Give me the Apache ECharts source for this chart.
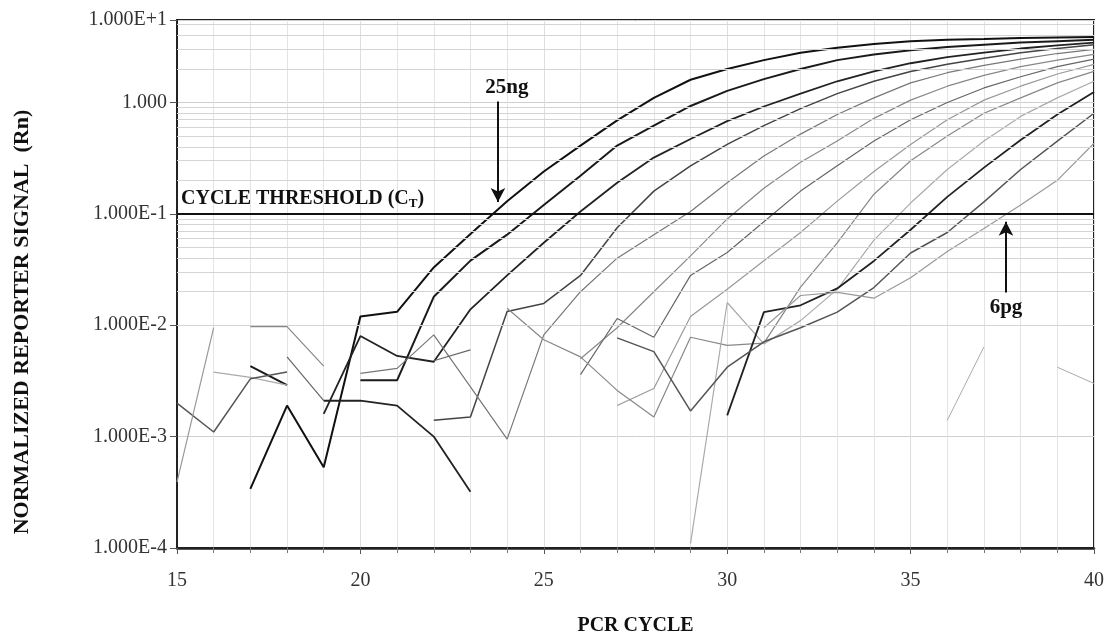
<!DOCTYPE html>
<html>
<head>
<meta charset="utf-8">
<title>PCR amplification plot</title>
<script src="https://cdn.jsdelivr.net/npm/echarts@6/dist/echarts.min.js"></script>
<style>
  html, body { margin: 0; padding: 0; background: #fff; }
  #chart { width: 1107px; height: 641px; }
</style>
</head>
<body>
<div id="chart"></div>
<script>
// PCR cycle numbers (x axis)
const cycles = [15, 16, 17, 18, 19, 20, 21, 22, 23, 24, 25, 26, 27, 28, 29, 30, 31, 32, 33, 34, 35, 36, 37, 38, 39, 40];

// normalized reporter signal (Rn) per dilution, null = no point drawn (value <= 0)
const curve25ng = [null, null, 0.00034, 0.0019, 0.00053, 0.012, 0.0132, 0.033, 0.066, 0.13, 0.24, 0.41, 0.69, 1.1, 1.6, 2.0, 2.4, 2.8, 3.1, 3.35, 3.55, 3.65, 3.72, 3.8, 3.84, 3.88];
const curve2 = [null, null, 0.0043, 0.0029, null, 0.0032, 0.0032, 0.018, 0.038, 0.065, 0.12, 0.22, 0.41, 0.62, 0.93, 1.27, 1.62, 2.0, 2.4, 2.7, 2.95, 3.15, 3.3, 3.45, 3.55, 3.65];
const curve3 = [null, null, null, null, 0.0016, 0.008, 0.0053, 0.0047, 0.0139, 0.028, 0.055, 0.105, 0.19, 0.32, 0.47, 0.68, 0.92, 1.2, 1.55, 1.9, 2.25, 2.55, 2.8, 3.05, 3.25, 3.45];
const curve4 = [null, null, null, null, null, null, null, 0.0014, 0.0015, 0.0133, 0.0157, 0.028, 0.075, 0.16, 0.27, 0.42, 0.62, 0.88, 1.2, 1.55, 1.9, 2.2, 2.5, 2.8, 3.05, 3.3];
const curve5 = [null, null, null, null, null, 0.0037, 0.0041, 0.0082, 0.0028, 0.00095, 0.0082, 0.02, 0.04, 0.065, 0.105, 0.19, 0.33, 0.52, 0.78, 1.1, 1.5, 1.85, 2.15, 2.45, 2.75, 3.0];
const curve6 = [null, null, 0.0097, 0.0097, 0.0043, null, null, null, null, null, null, 0.005, 0.0095, 0.02, 0.042, 0.09, 0.17, 0.29, 0.45, 0.72, 1.05, 1.4, 1.75, 2.1, 2.4, 2.7];
const curve7 = [null, null, null, 0.0052, 0.0021, null, null, 0.0048, 0.006, null, null, 0.0036, 0.0115, 0.0078, 0.028, 0.045, 0.085, 0.16, 0.27, 0.45, 0.7, 1.0, 1.35, 1.7, 2.1, 2.45];
const curve8 = [null, null, null, null, null, null, null, null, null, null, null, null, 0.0019, 0.0027, 0.012, 0.021, 0.038, 0.068, 0.13, 0.24, 0.42, 0.7, 1.05, 1.4, 1.8, 2.2];
const curve9 = [null, null, null, null, null, null, null, null, null, 0.0142, 0.0074, 0.0052, 0.0026, 0.0015, 0.0078, 0.0066, 0.0069, 0.022, 0.055, 0.15, 0.3, 0.5, 0.8, 1.1, 1.5, 1.9];
const curve10 = [null, 0.0038, 0.0034, 0.0029, null, null, null, null, null, null, null, null, null, null, 0.00011, 0.016, 0.0068, 0.011, 0.021, 0.058, 0.125, 0.25, 0.45, 0.75, 1.1, 1.55];
const curve11 = [null, null, null, null, 0.0021, 0.0021, 0.0019, 0.001, 0.00032, null, null, null, null, null, null, 0.00155, 0.0131, 0.0151, 0.0214, 0.0378, 0.072, 0.142, 0.26, 0.46, 0.78, 1.24];
const curve12 = [0.002, 0.0011, 0.0033, 0.0038, null, null, null, null, null, null, null, null, 0.0077, 0.0058, 0.0017, 0.0042, 0.0071, 0.0095, 0.0131, 0.0218, 0.0445, 0.068, 0.128, 0.25, 0.45, 0.8];
const curve6pg = [0.00039, 0.0095, null, null, null, null, null, null, null, null, null, null, null, null, null, null, 0.0095, 0.0185, 0.0197, 0.0175, 0.0267, 0.046, 0.074, 0.12, 0.2, 0.43];
const noTemplate = [null, null, null, null, null, null, null, null, null, null, null, null, null, null, null, null, null, null, null, null, null, 0.0014, 0.0064, null, 0.0042, 0.003];

const threshold = 0.1;

let myChart = echarts.init(document.getElementById("chart"));

const serif = "Liberation Serif";

// line colour / width for each trace, dark ones are the high-copy samples
let traces = [
  { data: curve25ng, color: "#111", width: 2 },
  { data: curve2, color: "#1a1a1a", width: 2 },
  { data: curve3, color: "#222", width: 1.8 },
  { data: curve4, color: "#444", width: 1.5 },
  { data: curve5, color: "#777", width: 1.2 },
  { data: curve6, color: "#888", width: 1.2 },
  { data: curve7, color: "#666", width: 1.2 },
  { data: curve8, color: "#999", width: 1.2 },
  { data: curve9, color: "#888", width: 1.2 },
  { data: curve10, color: "#aaa", width: 1.2 },
  { data: curve11, color: "#222", width: 1.8 },
  { data: curve12, color: "#555", width: 1.5 },
  { data: curve6pg, color: "#999", width: 1.2 },
  { data: noTemplate, color: "#aaa", width: 1 }
];

// light gridlines at 2..9 x 10^n (log minor lines)
let minorLines = [];
for (let e = -4; e <= 0; e++) {
  for (let j = 2; j <= 9; j++) {
    let v = j * Math.pow(10, e);
    if (v < 5.5) minorLines.push({ yAxis: v });
  }
}

let series = traces.map(function (t, i) {
  return {
    type: "line",
    name: "s" + i,
    data: cycles.map(function (c, k) { return [c, t.data[k]]; }),
    showSymbol: false,
    symbol: "none",
    connectNulls: false,
    z: 3,
    lineStyle: { color: t.color, width: t.width },
    silent: true
  };
});

series.push({
  type: "line",
  name: "grid",
  data: [],
  z: 1,
  silent: true,
  markLine: {
    silent: true,
    symbol: "none",
    animation: false,
    label: { show: false },
    lineStyle: { color: "#d4d4d4", width: 1, type: "solid" },
    data: minorLines
  }
});

// threshold line
series.push({
  type: "line",
  name: "threshold",
  data: [],
  z: 4,
  silent: true,
  markLine: {
    silent: true,
    animation: false,
    symbol: "none",
    lineStyle: { color: "#111", width: 2, type: "solid" },
    data: [
      {
        yAxis: threshold,
        label: {
          position: "insideStartTop",
          distance: 4,
          formatter: "{a|CYCLE THRESHOLD (C}{b|T}{a|)}",
          rich: {
            a: { fontFamily: serif, fontWeight: "bold", fontSize: 20, color: "#111" },
            b: { fontFamily: serif, fontWeight: "bold", fontSize: 13, color: "#111", padding: [10, 0, 0, 0] }
          }
        }
      }
    ]
  }
});

// arrows pointing at the first and the last dilution
series.push({
  type: "line",
  name: "arrows",
  data: [],
  z: 5,
  silent: true,
  markLine: {
    silent: true,
    animation: false,
    symbol: ["none", "arrow"],
    symbolSize: [11, 14],
    lineStyle: { color: "#111", width: 2, type: "solid" },
    label: {
      color: "#111",
      fontFamily: serif,
      fontWeight: "bold",
      fontSize: 21
    },
    data: [
      [
        { coord: [23.75, 1.02], label: { position: "start", formatter: "25ng", distance: 3, padding: [0, 0, 0, 18] } },
        { coord: [23.75, 0.128] }
      ],
      [
        { coord: [37.6, 0.0197], label: { position: "start", formatter: "6pg", distance: 5 } },
        { coord: [37.6, 0.085] }
      ]
    ]
  }
});

myChart.setOption({
  animation: false,
  backgroundColor: "#fff",
  grid: {
    left: 177,
    right: 11,
    top: 20,
    bottom: 84,
    show: true,
    borderColor: "#222",
    borderWidth: 2
  },
  graphic: [
    {
      type: "text",
      x: 22,
      y: 322,
      rotation: Math.PI / 2,
      style: {
        text: "NORMALIZED REPORTER SIGNAL  (Rn)",
        fontFamily: serif,
        fontWeight: "bold",
        fontSize: 22,
        fill: "#111",
        align: "center",
        verticalAlign: "middle"
      }
    }
  ],
  xAxis: {
    type: "value",
    min: 15,
    max: 40,
    interval: 5,
    name: "PCR CYCLE",
    nameLocation: "middle",
    nameGap: 68,
    nameTextStyle: { fontFamily: serif, fontWeight: "bold", fontSize: 20, color: "#111" },
    axisLine: { lineStyle: { color: "#222", width: 2.5 } },
    axisTick: { show: true, length: 6, lineStyle: { color: "#555" } },
    minorTick: { show: true, splitNumber: 5, length: 5, lineStyle: { color: "#777" } },
    axisLabel: { fontFamily: serif, fontSize: 20, color: "#333", margin: 23 },
    splitLine: { show: true, lineStyle: { color: "#dedede", width: 1 } },
    minorSplitLine: { show: true, lineStyle: { color: "#e4e4e4", width: 1 } }
  },
  yAxis: {
    type: "log",
    logBase: 10,
    min: 0.0001,
    max: 5.5,
    axisLine: { show: true, lineStyle: { color: "#222", width: 2 } },
    axisTick: { show: true, length: 7, lineStyle: { color: "#555" } },
    axisLabel: {
      fontFamily: serif,
      fontSize: 20,
      color: "#333",
      margin: 10,
      formatter: function (v) {
        // the top edge of the plot carries the 1.000E+1 label in the original figure
        if (v > 2) return "1.000E+1";
        let e = Math.round(Math.log10(v));
        if (e === 0) return "1.000";
        return "1.000E" + (e > 0 ? "+" : "") + e;
      }
    },
    splitLine: { show: true, lineStyle: { color: "#cfcfcf", width: 1 } }
  },
  series: series
});
</script>
</body>
</html>
